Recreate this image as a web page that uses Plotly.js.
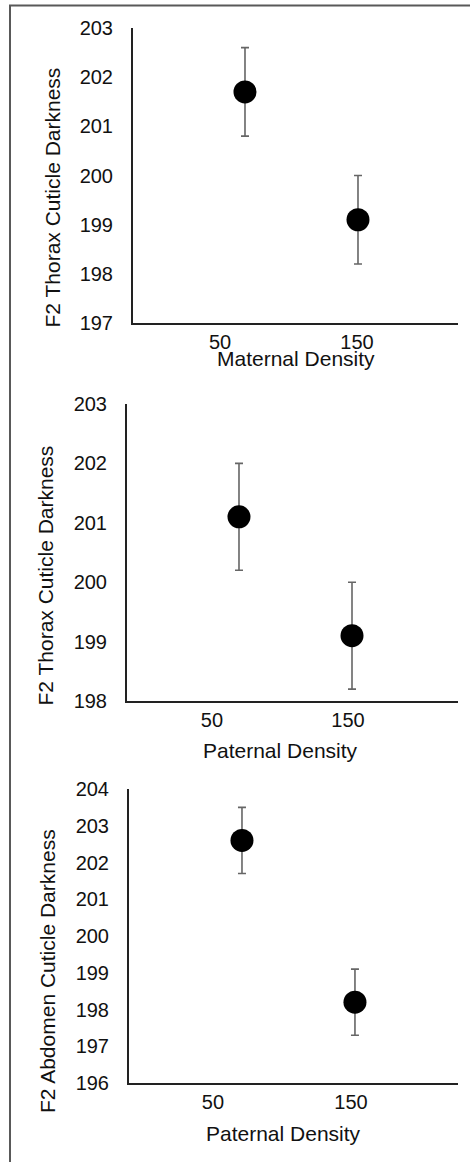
<!DOCTYPE html>
<html>
<head>
<meta charset="utf-8">
<script src="https://cdn.plot.ly/plotly-3.0.1.min.js"></script>
<style>html,body{margin:0;padding:0;background:#fff;}#chart{width:470px;height:1162px;}</style>
</head>
<body>
<div id="chart"></div>
<script>
// ---- data ----
var categories = ["50", "150"];
var maternalThoraxMean = [201.7, 199.1];
var maternalThoraxErr = [0.9, 0.9];
var paternalThoraxMean = [201.1, 199.1];
var paternalThoraxErr = [0.9, 0.9];
var paternalAbdomenMean = [202.6, 198.2];
var paternalAbdomenErr = [0.9, 0.9];
var xTitles = ["Maternal Density", "Paternal Density", "Paternal Density"];
var yTitles = ["F2 Thorax Cuticle Darkness", "F2 Thorax Cuticle Darkness", "F2 Abdomen Cuticle Darkness"];

// ---- layout helpers (pixel geometry) ----
var W = 470, H = 1162;
function px(x) { return x / W; }
function py(y) { return 1 - y / H; }
var FONT = "Liberation Sans, Arial, sans-serif";
var catIndex = categories.map(function (c, i) { return i; });

var panels = [
  {mean: maternalThoraxMean, err: maternalThoraxErr, x0: 133, x1: 458, top: 28, bot: 323, yr: [197, 203],
   xr: [-0.991, 1.885], lblPos: [-0.221, 0.991], ytx: 52, yty: 197.5, xtx: 296, xty: 358},
  {mean: paternalThoraxMean, err: paternalThoraxErr, x0: 127, x1: 458, top: 404, bot: 701, yr: [198, 203],
   xr: [-0.991, 1.938], lblPos: [-0.239, 0.965], ytx: 45, yty: 575.5, xtx: 280, xty: 750},
  {mean: paternalAbdomenMean, err: paternalAbdomenErr, x0: 129, x1: 458, top: 789, bot: 1083, yr: [196, 204],
   xr: [-1.0, 1.912], lblPos: [-0.257, 0.965], ytx: 47, yty: 971, xtx: 283, xty: 1133}
];

var data = [];
var layout = {
  width: W, height: H,
  margin: {l: 0, r: 0, t: 0, b: 0},
  paper_bgcolor: "#ffffff",
  plot_bgcolor: "rgba(0,0,0,0)",
  showlegend: false,
  font: {family: FONT, color: "#111", size: 20},
  annotations: [],
  shapes: [
    {type: "line", xref: "paper", yref: "paper", x0: px(9), x1: 1, y0: py(5.5), y1: py(5.5), line: {color: "#595959", width: 2}},
    {type: "line", xref: "paper", yref: "paper", x0: px(10), x1: px(10), y0: py(5), y1: 0, line: {color: "#595959", width: 2}}
  ]
};

panels.forEach(function (p, i) {
  var n = i + 1;
  var xName = n === 1 ? "xaxis" : "xaxis" + n;
  var yName = n === 1 ? "yaxis" : "yaxis" + n;
  var xRef = n === 1 ? "x" : "x" + n;
  var yRef = n === 1 ? "y" : "y" + n;

  data.push({
    type: "scatter", mode: "markers",
    x: catIndex, y: p.mean,
    text: categories,
    xaxis: xRef, yaxis: yRef,
    marker: {color: "#000", size: 23},
    error_y: {type: "data", array: p.err, visible: true, color: "#666", thickness: 1.6, width: 4},
    hoverinfo: "text+y"
  });

  layout[xName] = {
    domain: [px(p.x0), px(p.x1)], anchor: yRef,
    type: "linear", range: p.xr,
    tickmode: "array", tickvals: p.lblPos, ticktext: categories,
    showline: true, linecolor: "#222", linewidth: 2,
    showgrid: false, zeroline: false, ticks: "",
    tickfont: {family: FONT, size: 20, color: "#111"},
    ticklabelstandoff: 0,
    automargin: false, fixedrange: true
  };
  layout[yName] = {
    domain: [py(p.bot), py(p.top)], anchor: xRef,
    range: p.yr, dtick: 1, tick0: 0,
    showline: true, linecolor: "#222", linewidth: 2,
    showgrid: false, zeroline: false, ticks: "",
    tickfont: {family: FONT, size: 20, color: "#111"},
    ticklabelstandoff: 14,
    automargin: false, fixedrange: true
  };

  layout.annotations.push({
    xref: "paper", yref: "paper", x: px(p.ytx), y: py(p.yty),
    xanchor: "center", yanchor: "middle", textangle: -90, showarrow: false,
    text: yTitles[i], font: {family: FONT, size: 21, color: "#111"}
  });
  layout.annotations.push({
    xref: "paper", yref: "paper", x: px(p.xtx), y: py(p.xty),
    xanchor: "center", yanchor: "middle", showarrow: false,
    text: xTitles[i], font: {family: FONT, size: 21, color: "#111"}
  });
});

Plotly.newPlot("chart", data, layout, {displayModeBar: false, staticPlot: true});
</script>
</body>
</html>
